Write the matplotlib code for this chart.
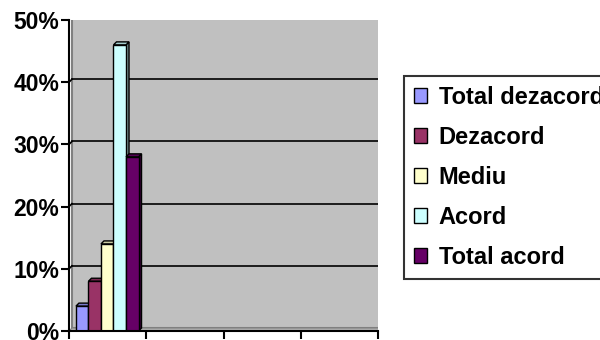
import numpy as np
import matplotlib
matplotlib.use("Agg")
import matplotlib.pyplot as plt
from matplotlib.patches import Polygon, Rectangle
from matplotlib.transforms import ScaledTranslation

plt.rcParams['font.family'] = ['Liberation Sans', 'DejaVu Sans']

# data
series = ["Total dezacord", "Dezacord", "Mediu", "Acord", "Total acord"]
values = [4, 8, 14, 46, 28]
colors = ["#9999FF", "#993366", "#FFFFCC", "#CCFFFF", "#660066"]
yticks = [0, 10, 20, 30, 40, 50]
n_groups = 4

W, H = 600, 340
fig = plt.figure(figsize=(6, 3.4), dpi=100)
fig.patch.set_facecolor("white")

# axes box in pixels
x0p, x1p, y0p, y1p = 69, 378, 9, 320
ax = fig.add_axes([x0p / W, y0p / H, (x1p - x0p) / W, (y1p - y0p) / H])
ax.set_xlim(0, n_groups)
ax.set_ylim(0, 50)
ax.set_facecolor("none")

# depth of the fake 3d effect, in px and data units
dpx = 3
dx = dpx * n_groups / (x1p - x0p)
dy = dpx * 50 / (y1p - y0p)

# back wall
off = ScaledTranslation(dpx / 100, dpx / 100, fig.dpi_scale_trans)
wall = Rectangle((0, 0), 1, 1, transform=ax.transAxes + off,
                 facecolor="#C0C0C0", edgecolor="#808080", lw=1.5, zorder=0)
ax.add_patch(wall)
floor = Polygon([(0, 0), (n_groups, 0), (n_groups + dx, dy), (dx, dy)],
                closed=True, facecolor="#B0B0B0", edgecolor="#808080",
                lw=0.8, zorder=0.5)
ax.add_patch(floor)

# gridlines
for t in yticks[1:]:
    ax.plot([dx, n_groups + dx], [t + dy, t + dy], color="black", lw=1.2, zorder=1)
    ax.plot([0, dx], [t, t + dy], color="black", lw=1.2, zorder=1)

# bars (only first category has data)
bw = 0.162
start = 0.09
for i, (v, c) in enumerate(zip(values, colors)):
    xl = start + i * bw
    xr = xl + bw
    rgb = np.array(matplotlib.colors.to_rgb(c))
    side = Polygon([(xr, 0), (xr + dx, dy), (xr + dx, v + dy), (xr, v)],
                   closed=True, facecolor=rgb * 0.55, edgecolor="black", lw=1.0, zorder=2 + i)
    top = Polygon([(xl, v), (xr, v), (xr + dx, v + dy), (xl + dx, v + dy)],
                  closed=True, facecolor=rgb * 0.8, edgecolor="black", lw=1.0, zorder=2 + i)
    ax.add_patch(side)
    ax.add_patch(top)
    ax.bar(xl, v, width=bw, align="edge", color=c, edgecolor="black",
           lw=1.0, zorder=2.5 + i, label=series[i])

# axes styling
for s in ["top", "right"]:
    ax.spines[s].set_visible(False)
for s in ["left", "bottom"]:
    ax.spines[s].set_linewidth(1.5)
    ax.spines[s].set_zorder(10)
ax.set_yticks(yticks)
ax.set_yticklabels([f"{t}%" for t in yticks], fontsize=16.5, fontweight="bold")
ax.set_xticks(range(n_groups + 1))
ax.set_xticklabels([])
ax.tick_params(axis="both", direction="out", length=6, width=1.5, pad=1)

leg = fig.legend(loc="upper left", bbox_to_anchor=(404 / W, 1 - 76 / H),
                 frameon=True, fancybox=False,
                 prop={"weight": "bold", "size": 17},
                 handlelength=0.55, handleheight=0.55, handletextpad=0.5,
                 labelspacing=0.72, borderpad=0.42, borderaxespad=0)
leg.get_frame().set_edgecolor("black")
leg.get_frame().set_linewidth(1.5)

fig.savefig("out.png", dpi=100)
